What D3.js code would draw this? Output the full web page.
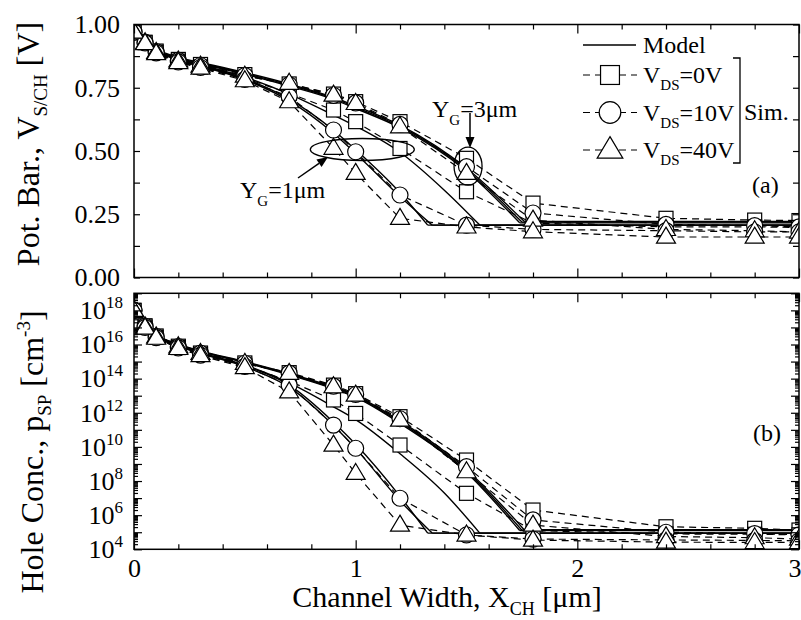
<!DOCTYPE html>
<html>
<head>
<meta charset="utf-8">
<script src="https://cdn.jsdelivr.net/npm/d3@7"></script>
<style>
  body { margin: 0; background: #fff; }
  svg, text { font-family: "Liberation Serif", "DejaVu Serif", serif; }
  .frame { fill: none; stroke: #000; stroke-width: 1.5; }
  .model { fill: none; stroke: #000; stroke-width: 1.4; }
  .sim { fill: none; stroke: #000; stroke-width: 1.2; stroke-dasharray: 7,5; }
  .mark { fill: #fff; stroke: #000; stroke-width: 1.2; }
</style>
</head>
<body>
<svg id="chart" width="801" height="620"></svg>
<script>
// simulation sample positions [um]
const SIM_X = [0, 0.05, 0.1, 0.2, 0.3, 0.5, 0.7, 0.9, 1.0, 1.2, 1.5, 1.8, 2.4, 2.8, 3.0];

// (a) potential barrier [V], simulation
const SIM_POT_YG3_V0 = [0.97, 0.93, 0.895, 0.862, 0.842, 0.802, 0.765, 0.725, 0.695, 0.616, 0.471, 0.294, 0.234, 0.227, 0.225];
const SIM_POT_YG3_V10 = [0.97, 0.93, 0.893, 0.858, 0.838, 0.798, 0.762, 0.72, 0.69, 0.605, 0.438, 0.255, 0.21, 0.205, 0.2];
const SIM_POT_YG3_V40 = [0.97, 0.928, 0.89, 0.856, 0.836, 0.796, 0.768, 0.721, 0.688, 0.596, 0.412, 0.227, 0.19, 0.185, 0.18];
const SIM_POT_YG1_V0 = [0.97, 0.928, 0.89, 0.855, 0.832, 0.788, 0.728, 0.662, 0.616, 0.51, 0.339, 0.215, 0.2, 0.2, 0.198];
const SIM_POT_YG1_V10 = [0.97, 0.927, 0.888, 0.852, 0.83, 0.783, 0.715, 0.583, 0.497, 0.326, 0.207, 0.19, 0.185, 0.18, 0.18];
const SIM_POT_YG1_V40 = [0.97, 0.925, 0.885, 0.85, 0.828, 0.778, 0.695, 0.511, 0.412, 0.234, 0.2, 0.181, 0.16, 0.16, 0.16];

// (b) hole concentration, log10 [cm^-3], simulation
const SIM_LOG_YG3_V0 = [18.0, 17.1, 16.5, 15.9, 15.5, 14.92, 14.35, 13.62, 13.12, 11.77, 9.23, 6.3, 5.32, 5.23, 5.13];
const SIM_LOG_YG3_V10 = [18.0, 17.08, 16.48, 15.88, 15.49, 14.9, 14.32, 13.56, 13.07, 11.65, 8.84, 5.72, 5.0, 4.92, 4.85];
const SIM_LOG_YG3_V40 = [18.0, 17.04, 16.45, 15.87, 15.48, 14.9, 14.31, 13.53, 13.04, 11.57, 8.55, 5.42, 4.75, 4.68, 4.6];
const SIM_LOG_YG1_V0 = [18.0, 17.02, 16.42, 15.82, 15.42, 14.78, 13.85, 12.75, 11.96, 10.11, 7.28, 5.1, 4.9, 4.88, 4.85];
const SIM_LOG_YG1_V10 = [18.0, 17.0, 16.4, 15.8, 15.38, 14.72, 13.62, 11.28, 9.92, 6.99, 4.84, 4.6, 4.55, 4.52, 4.5];
const SIM_LOG_YG1_V40 = [18.0, 16.97, 16.37, 15.77, 15.35, 14.65, 13.23, 10.11, 8.45, 5.42, 4.84, 4.54, 4.42, 4.4, 4.4];

// model curves (last point pair = flat floor)
const MOD_X_YG3_V0 = [0, 0.1, 0.2, 0.3, 0.5, 0.7, 0.9, 1.0, 1.2, 1.5, 1.76, 3.0];
const MOD_X_YG3_V10 = [0, 0.1, 0.2, 0.3, 0.5, 0.7, 0.9, 1.0, 1.2, 1.5, 1.75, 3.0];
const MOD_X_YG3_V40 = [0, 0.1, 0.2, 0.3, 0.5, 0.7, 0.9, 1.0, 1.2, 1.5, 1.74, 3.0];
const MOD_X_YG1_V0 = [0, 0.1, 0.2, 0.3, 0.5, 0.7, 0.9, 1.0, 1.2, 1.4, 1.56, 3.0];
const MOD_X_YG1_V10 = [0, 0.1, 0.2, 0.3, 0.5, 0.7, 0.9, 1.0, 1.2, 1.325, 3.0];
const MOD_X_YG1_V40 = [0, 0.1, 0.2, 0.3, 0.5, 0.7, 0.9, 1.0, 1.2, 1.345, 3.0];

const MOD_POT_YG3_V0 = [0.985, 0.905, 0.87, 0.85, 0.81, 0.765, 0.712, 0.678, 0.602, 0.432, 0.222, 0.222];
const MOD_POT_YG3_V10 = [0.985, 0.902, 0.867, 0.847, 0.807, 0.761, 0.708, 0.673, 0.597, 0.426, 0.219, 0.219];
const MOD_POT_YG3_V40 = [0.985, 0.9, 0.864, 0.844, 0.804, 0.757, 0.704, 0.668, 0.592, 0.42, 0.216, 0.216];
const MOD_POT_YG1_V0 = [0.985, 0.9, 0.862, 0.84, 0.792, 0.725, 0.642, 0.598, 0.495, 0.345, 0.207, 0.207];
const MOD_POT_YG1_V10 = [0.985, 0.9, 0.86, 0.837, 0.786, 0.705, 0.582, 0.505, 0.335, 0.207, 0.207];
const MOD_POT_YG1_V40 = [0.985, 0.898, 0.858, 0.835, 0.782, 0.698, 0.57, 0.49, 0.32, 0.207, 0.207];

const MOD_LOG_YG3_V0 = [18.3, 16.62, 16.02, 15.62, 15.0, 14.3, 13.5, 13.0, 11.52, 8.68, 5.15, 5.15];
const MOD_LOG_YG3_V10 = [18.3, 16.6, 16.0, 15.6, 14.97, 14.26, 13.45, 12.95, 11.45, 8.58, 5.12, 5.12];
const MOD_LOG_YG3_V40 = [18.3, 16.58, 15.98, 15.58, 14.94, 14.22, 13.4, 12.9, 11.38, 8.5, 5.1, 5.1];
const MOD_LOG_YG1_V0 = [18.3, 16.55, 15.95, 15.52, 14.8, 13.75, 12.35, 11.6, 9.6, 7.3, 4.95, 4.95];
const MOD_LOG_YG1_V10 = [18.3, 16.55, 15.93, 15.5, 14.75, 13.62, 11.45, 10.15, 7.1, 4.95, 4.95];
const MOD_LOG_YG1_V40 = [18.3, 16.52, 15.9, 15.47, 14.7, 13.5, 11.25, 9.9, 6.85, 4.95, 4.95];

// tick labels
const X_LABELS = [0, 1, 2, 3];
const POT_LABELS = [0, 0.25, 0.5, 0.75, 1.0];
const LOG_LABELS = [4, 6, 8, 10, 12, 14, 16, 18];

const LEGEND = [
    { mark: 'square', text: '=0V' },
    { mark: 'circle', text: '=10V' },
    { mark: 'triangle', text: '=40V' }
];

const FONT = '"Liberation Serif", "DejaVu Serif", serif';
const X0 = 134, X1 = 799,
    A_TOP = 24.5, A_BOT = 277.5,
    B_TOP = 293.3, B_BOT = 549.3;

var x = d3.scaleLinear().domain([0, 3]).range([X0, X1]);
var yPot = d3.scaleLinear().domain([0, 1]).range([A_BOT, A_TOP]);
var yHole = d3.scaleLog().domain([1e4, 1e19]).range([B_BOT, B_TOP]);

var simSeries = [
    { pot: SIM_POT_YG3_V0, log: SIM_LOG_YG3_V0, mark: 'square' },
    { pot: SIM_POT_YG1_V0, log: SIM_LOG_YG1_V0, mark: 'square' },
    { pot: SIM_POT_YG3_V10, log: SIM_LOG_YG3_V10, mark: 'circle' },
    { pot: SIM_POT_YG1_V10, log: SIM_LOG_YG1_V10, mark: 'circle' },
    { pot: SIM_POT_YG3_V40, log: SIM_LOG_YG3_V40, mark: 'triangle' },
    { pot: SIM_POT_YG1_V40, log: SIM_LOG_YG1_V40, mark: 'triangle' }
];
var modelSeries = [
    { x: MOD_X_YG3_V0, pot: MOD_POT_YG3_V0, log: MOD_LOG_YG3_V0 },
    { x: MOD_X_YG3_V10, pot: MOD_POT_YG3_V10, log: MOD_LOG_YG3_V10 },
    { x: MOD_X_YG3_V40, pot: MOD_POT_YG3_V40, log: MOD_LOG_YG3_V40 },
    { x: MOD_X_YG1_V0, pot: MOD_POT_YG1_V0, log: MOD_LOG_YG1_V0 },
    { x: MOD_X_YG1_V10, pot: MOD_POT_YG1_V10, log: MOD_LOG_YG1_V10 },
    { x: MOD_X_YG1_V40, pot: MOD_POT_YG1_V40, log: MOD_LOG_YG1_V40 }
];

var svg = d3.select('#chart').attr('font-family', FONT);
var defs = svg.append('defs');

var addMark = (g, type, cx, cy, big) => {
    var k = big ? 1.35 : 1;
    if (type === 'square') {
        var s = 14 * k;
        g.append('rect').attr('class', 'mark')
            .attr('x', cx - s / 2).attr('y', cy - s / 2).attr('width', s).attr('height', s);
    } else if (type === 'circle') {
        g.append('circle').attr('class', 'mark')
            .attr('cx', cx).attr('cy', cy).attr('r', 8 * k);
    } else {
        var w = 9.5 * k, h = 16 * k;
        g.append('path').attr('class', 'mark')
            .attr('d', 'M' + cx + ',' + (cy - h * 0.62) + 'L' + (cx + w) + ',' + (cy + h * 0.38) +
                'L' + (cx - w) + ',' + (cy + h * 0.38) + 'Z');
    }
};

var inwardTicks = (g, axisFn, scale, values, size, tx, ty) => {
    g.append('g')
        .attr('transform', 'translate(' + tx + ',' + ty + ')')
        .call(axisFn(scale).tickValues(values).tickSize(-size).tickFormat(''))
        .call(a => a.select('.domain').remove())
        .selectAll('line').attr('stroke-width', 1.2);
};

var drawPanel = (yScale, key, top, bot, id) => {
    var toY = key === 'pot' ? (v => v) : (v => Math.pow(10, v));

    defs.append('clipPath').attr('id', id)
        .append('rect').attr('x', X0).attr('y', top).attr('width', X1 - X0).attr('height', bot - top);

    var g = svg.append('g').attr('clip-path', 'url(#' + id + ')');

    var curvePart = d3.line()
        .x(d => x(d[0]))
        .y(d => yScale(toY(d[1])))
        .curve(d3.curveMonotoneX);
    var straight = d3.line()
        .x(d => x(d[0]))
        .y(d => yScale(toY(d[1])));

    modelSeries.forEach(s => {
        var pts = s.x.map((v, i) => [v, s[key][i]]);
        g.append('path').attr('class', 'model').attr('d', curvePart(pts.slice(0, -1)));
        g.append('path').attr('class', 'model').attr('d', straight(pts.slice(-2)));
    });

    simSeries.forEach(s => {
        g.append('path').attr('class', 'sim')
            .attr('d', straight(SIM_X.map((v, i) => [v, s[key][i]])));
    });

    ['square', 'circle', 'triangle'].forEach(type => {
        simSeries.filter(s => s.mark === type).forEach(s => {
            SIM_X.forEach((v, i) => addMark(g, type, x(v), yScale(toY(s[key][i])), false));
        });
    });

    // ticks on all four sides, pointing inward
    var xMinor = d3.range(0, 3.001, 0.2).filter(v => Math.abs(v - Math.round(v)) > 0.01);
    inwardTicks(svg, d3.axisBottom, x, xMinor, 5, 0, bot);
    inwardTicks(svg, d3.axisTop, x, xMinor, 5, 0, top);
    inwardTicks(svg, d3.axisBottom, x, X_LABELS, 9, 0, bot);
    inwardTicks(svg, d3.axisTop, x, X_LABELS, 9, 0, top);

    if (key === 'pot') {
        var yT = d3.range(0, 1.001, 0.125);
        inwardTicks(svg, d3.axisLeft, yScale, yT, 6, X0, 0);
        inwardTicks(svg, d3.axisRight, yScale, yT, 6, X1, 0);
    } else {
        var major = d3.range(4, 20).map(k => Math.pow(10, k));
        var minor = [];
        d3.range(4, 19).forEach(k => d3.range(2, 10).forEach(m => minor.push(m * Math.pow(10, k))));
        inwardTicks(svg, d3.axisLeft, yScale, major, 8, X0, 0);
        inwardTicks(svg, d3.axisRight, yScale, major, 8, X1, 0);
        inwardTicks(svg, d3.axisLeft, yScale, minor, 4, X0, 0);
        inwardTicks(svg, d3.axisRight, yScale, minor, 4, X1, 0);
    }

    svg.append('rect').attr('class', 'frame')
        .attr('x', X0).attr('y', top).attr('width', X1 - X0).attr('height', bot - top);
};

drawPanel(yPot, 'pot', A_TOP, A_BOT, 'clipA');
drawPanel(yHole, 'log', B_TOP, B_BOT, 'clipB');

// tick labels
svg.append('g')
    .attr('transform', 'translate(' + X0 + ',0)')
    .call(d3.axisLeft(yPot).tickValues(POT_LABELS).tickSize(0).tickPadding(14).tickFormat(d3.format('.2f')))
    .call(a => a.select('.domain').remove())
    .attr('font-size', 26).attr('font-family', FONT);

svg.append('g')
    .attr('transform', 'translate(0,' + B_BOT + ')')
    .call(d3.axisBottom(x).tickValues(X_LABELS).tickSize(0).tickPadding(9).tickFormat(d3.format('d')))
    .call(a => a.select('.domain').remove())
    .attr('font-size', 26).attr('font-family', FONT)
    // last label sits on the window edge: keep it inside
    .selectAll('.tick text').filter(d => d === 3)
    .attr('text-anchor', 'end').attr('x', 801 - X1);

var logAxis = svg.append('g')
    .attr('transform', 'translate(' + X0 + ',0)')
    .call(d3.axisLeft(yHole).tickValues(LOG_LABELS.map(k => Math.pow(10, k))).tickSize(0).tickPadding(11).tickFormat(''))
    .call(a => a.select('.domain').remove())
    .attr('font-size', 26).attr('font-family', FONT);
logAxis.selectAll('.tick text').each(function (d) {
    var t = d3.select(this);
    t.append('tspan').text('10');
    t.append('tspan').attr('dy', -11).attr('font-size', 17).text(Math.round(Math.log10(d)));
});

// axis titles
var title = (tx, ty, rot, parts) => {
    var t = svg.append('text')
        .attr('transform', 'translate(' + tx + ',' + ty + ')' + (rot ? ' rotate(-90)' : ''))
        .attr('text-anchor', 'middle')
        .attr('font-size', parts.size);
    parts.items.forEach(p => {
        var s = t.append('tspan').text(p[0]);
        if (p[1]) s.attr('dy', p[1]);
        if (p[2]) s.attr('font-size', p[2]);
    });
};

title(39, 144, true, { size: 32, items: [['Pot. Bar., V'], ['S/CH', 8, 19], [' [V]', -8]] });
title(43, 452, true, { size: 32, items: [['Hole Conc., p'], ['SP', 8, 19], [' [cm', -8], ['-3', -13, 19], [']', 13]] });
title(447, 607, false, { size: 30, items: [['Channel Width, X'], ['CH', 8, 18], [' [\u03bcm]', -8]] });

// legend
var lg = svg.append('g');
lg.append('line').attr('class', 'model').attr('x1', 583).attr('x2', 636).attr('y1', 45).attr('y2', 45);
lg.append('text').attr('x', 643).attr('y', 53).attr('font-size', 24).text('Model');
LEGEND.forEach((d, i) => {
    var ly = 75 + i * 37.5;
    lg.append('line').attr('class', 'sim').attr('x1', 583).attr('x2', 637).attr('y1', ly).attr('y2', ly)
        .attr('stroke-dasharray', '6,5');
    addMark(lg, d.mark, 610, ly, true);
    var t = lg.append('text').attr('x', 643).attr('y', ly + 8).attr('font-size', 24);
    t.append('tspan').text('V');
    t.append('tspan').attr('dy', 7).attr('font-size', 15).text('DS');
    t.append('tspan').attr('dy', -7).text(d.text);
});
lg.append('path').attr('fill', 'none').attr('stroke', '#000').attr('stroke-width', 1.3)
    .attr('d', 'M733,58H740V163H733');
lg.append('text').attr('x', 744).attr('y', 120).attr('font-size', 24).text('Sim.');

svg.append('text').attr('x', 752).attr('y', 193).attr('font-size', 24).text('(a)');
svg.append('text').attr('x', 753).attr('y', 441).attr('font-size', 24).text('(b)');

// annotations
var ann = svg.append('g');
ann.append('ellipse').attr('fill', 'none').attr('stroke', '#000').attr('stroke-width', 1.3)
    .attr('cx', x(1.03)).attr('cy', yPot(0.506)).attr('rx', 52).attr('ry', 11);
ann.append('ellipse').attr('fill', 'none').attr('stroke', '#000').attr('stroke-width', 1.3)
    .attr('cx', x(1.507)).attr('cy', yPot(0.44)).attr('rx', 14).attr('ry', 19);

var arrow = (x1, y1, x2, y2) => {
    var a = Math.atan2(y2 - y1, x2 - x1), L = 11, W = 4.5;
    var bx = x2 - L * Math.cos(a), by = y2 - L * Math.sin(a);
    ann.append('line').attr('stroke', '#000').attr('stroke-width', 1.5)
        .attr('x1', x1).attr('y1', y1).attr('x2', bx).attr('y2', by);
    ann.append('path').attr('fill', '#000')
        .attr('d', 'M' + x2 + ',' + y2 +
            'L' + (bx + W * Math.sin(a)) + ',' + (by - W * Math.cos(a)) +
            'L' + (bx - W * Math.sin(a)) + ',' + (by + W * Math.cos(a)) + 'Z');
};
arrow(470, 113, 470, 148);
arrow(298, 178, 328, 157);

var yg = (tx, ty, val) => {
    var t = ann.append('text').attr('x', tx).attr('y', ty).attr('font-size', 24);
    t.append('tspan').text('Y');
    t.append('tspan').attr('dy', 8).attr('font-size', 15).text('G');
    t.append('tspan').attr('dy', -8).text('=' + val + '\u03bcm');
};
yg(432, 117, 3);
yg(240, 198, 1);
</script>
</body>
</html>
